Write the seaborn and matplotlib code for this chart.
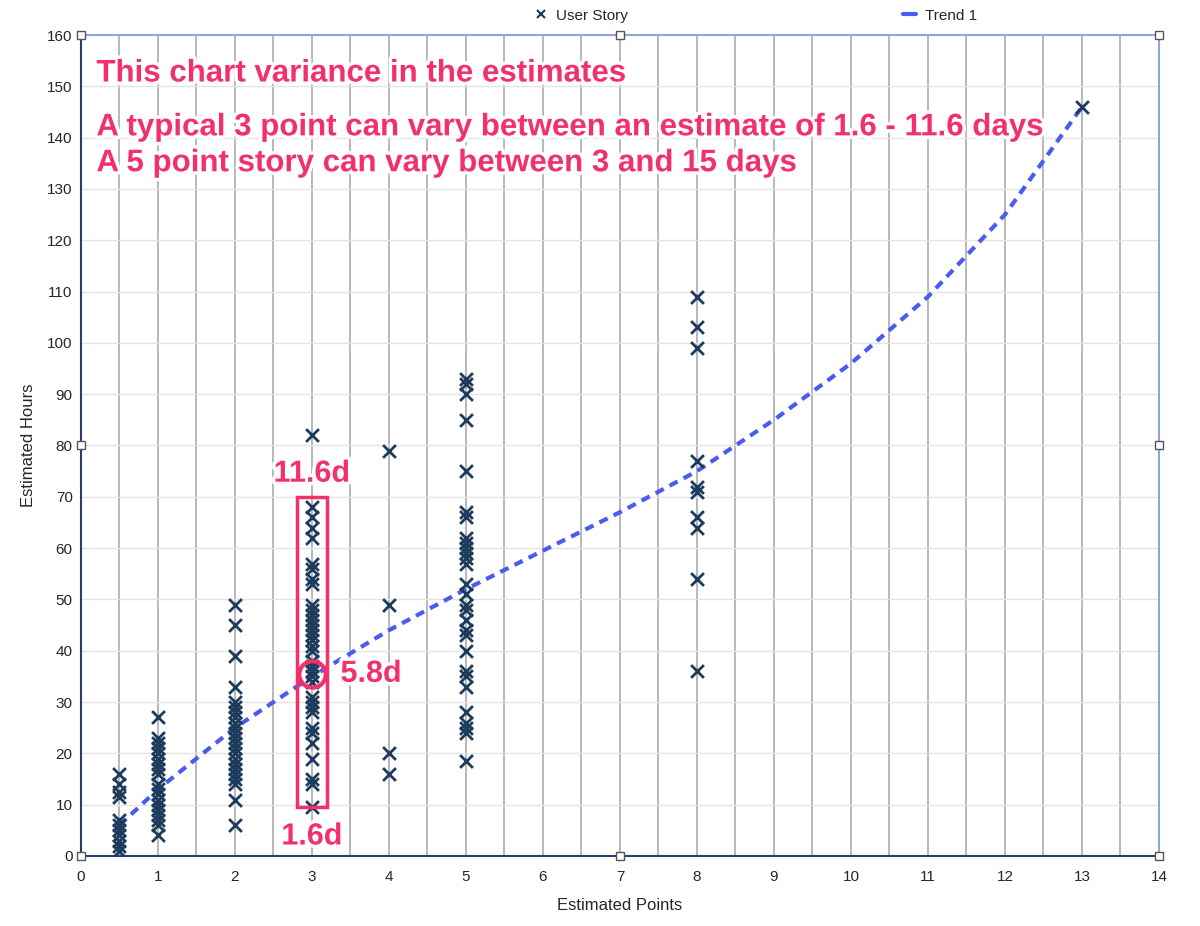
import numpy as np
import matplotlib
matplotlib.use("Agg")
import matplotlib.pyplot as plt
import matplotlib.patheffects as pe
from matplotlib.lines import Line2D
from matplotlib.patches import Rectangle
import seaborn as sns
import pandas as pd

# estimated hours per story, grouped by story points
hours_05 = [16, 14, 12.5, 11.5, 7, 6, 5, 4, 3, 2, 1]
hours_1 = [27, 23, 22, 21, 20, 19, 18, 17, 16, 14, 13, 12, 11, 10, 9, 8, 7, 6, 4]
hours_2 = [49, 45, 39, 33, 30, 29, 28, 27, 26, 25, 24, 23, 22, 21, 20, 19, 18, 17,
           16, 15, 14, 11, 6]
hours_3 = [82, 68, 66, 64, 62, 57, 56, 54, 53, 49, 48, 47, 46, 45, 44, 43, 42, 41,
           40, 38, 37, 36, 35, 34, 31, 30, 29, 28, 25, 24, 22, 19, 15, 14, 9.5]
hours_4 = [79, 49, 20, 16]
hours_5 = [93, 92, 90, 85, 75, 67, 66, 62, 61, 60, 59, 58, 57, 53, 51, 49, 48, 46,
           44, 43, 40, 36, 35, 33, 28, 26, 25, 24, 18.5]
hours_8 = [109, 103, 99, 77, 72, 71, 66, 64, 54, 36]
hours_13 = [146]

point_values = [0.5, 1, 2, 3, 4, 5, 8, 13]
hour_groups = [hours_05, hours_1, hours_2, hours_3, hours_4, hours_5, hours_8, hours_13]

# trend 1
trend_x = [0.5, 1, 2, 3, 4, 5, 6, 7, 8, 9, 10, 11, 12, 13]
trend_y = [6, 13, 25, 35, 44, 52, 59.5, 67, 75, 85, 96, 109, 125, 146]

# the highlighted 3 point range
box_low, box_high, box_mid = 9.5, 70, 35.5

rows = []
for p, hrs in zip(point_values, hour_groups):
    for h in hrs:
        rows.append((p, h))
df = pd.DataFrame(rows, columns=["points", "hours"])
trend = pd.DataFrame({"points": trend_x, "hours": trend_y})

sns.set_style("white")
plt.rcParams["font.family"] = ["Liberation Sans", "DejaVu Sans"]

fig = plt.figure(figsize=(12, 9.26), dpi=100)
ax = fig.add_axes([0.0675, 0.0756, 0.8983, 0.8866])

navy = "#1d3b5c"
pink = "#f2306a"
blue = "#4a5cf0"

sns.lineplot(data=trend, x="points", y="hours", ax=ax, color=blue, lw=3,
             linestyle=(0, (2.2, 1.6)), zorder=4, legend=False)
sns.scatterplot(data=df, x="points", y="hours", ax=ax, marker="x", s=85,
                color=navy, linewidth=2.0, zorder=5, legend=False)

ax.set_xlim(0, 14)
ax.set_ylim(0, 160)
ax.set_xticks(np.arange(0, 15, 1))
ax.set_yticks(np.arange(0, 161, 10))
ax.set_xticks(np.arange(0.5, 14, 1), minor=True)
ax.tick_params(axis="both", which="major", labelsize=11, length=0, pad=6)
ax.tick_params(axis="x", which="minor", length=0)
ax.tick_params(axis="x", which="major", length=4, direction="out", color=navy)

ax.grid(axis="x", which="both", color="#b8b8b8", lw=1.4, zorder=0)
ax.grid(axis="y", which="major", color="#e4e4e4", lw=1, zorder=0)
ax.set_axisbelow(True)

for s in ["left", "bottom"]:
    ax.spines[s].set_color("#2c3e6e")
    ax.spines[s].set_linewidth(1.5)
for s in ["top", "right"]:
    ax.spines[s].set_color("#8fa6dc")
    ax.spines[s].set_linewidth(1.5)

# selection handles on the plot frame
hx = [0, 0.5, 1, 0, 1, 0, 0.5, 1]
hy = [0, 0, 0, 0.5, 0.5, 1, 1, 1]
ax.plot(hx, hy, "s", transform=ax.transAxes, ms=6, mfc="white", mec="#555555",
        mew=1, clip_on=False, zorder=10)

ax.set_xlabel("Estimated Points", fontsize=12, labelpad=10)
ax.set_ylabel("Estimated Hours", fontsize=12, labelpad=8)

outline = [pe.SimplePatchShadow(offset=(1, -1.5), shadow_rgbFace="#999999", alpha=0.5),
           pe.withStroke(linewidth=5, foreground="white")]
note_kw = dict(color=pink, fontweight="bold", fontsize=22.5, path_effects=outline,
               transform=ax.transData, va="center", ha="left", zorder=8)
ax.text(0.2, 152.5, "This chart variance in the estimates", **note_kw)
ax.text(0.2, 142, "A typical 3 point can vary between an estimate of 1.6 - 11.6 days", **note_kw)
ax.text(0.2, 135, "A 5 point story can vary between 3 and 15 days", **note_kw)

lab_kw = dict(color=pink, fontweight="bold", fontsize=22, path_effects=outline,
              va="center", zorder=8)
ax.text(3, 74.5, "11.6d", ha="center", **lab_kw)
ax.text(3, 3.8, "1.6d", ha="center", **lab_kw)
ax.text(3.37, 35.5, "5.8d", ha="left", **lab_kw)

ax.add_patch(Rectangle((2.8, box_low), 0.4, box_high - box_low, fill=False,
                       edgecolor=pink, lw=2.5, zorder=7))
ax.plot([3], [box_mid], "o", ms=19, mfc="none", mec=pink, mew=3, zorder=7)

handles = [
    Line2D([], [], marker="x", color=navy, lw=0, ms=6, mew=1.5, label="User Story"),
    Line2D([], [], color=blue, lw=3, label="Trend 1"),
]
fig.legend(handles=handles, loc="center", bbox_to_anchor=(0.63, 0.983), ncol=2,
           frameon=False, fontsize=11, columnspacing=18, handlelength=0.8,
           handletextpad=0.6)

fig.savefig("out.png", dpi=100)
